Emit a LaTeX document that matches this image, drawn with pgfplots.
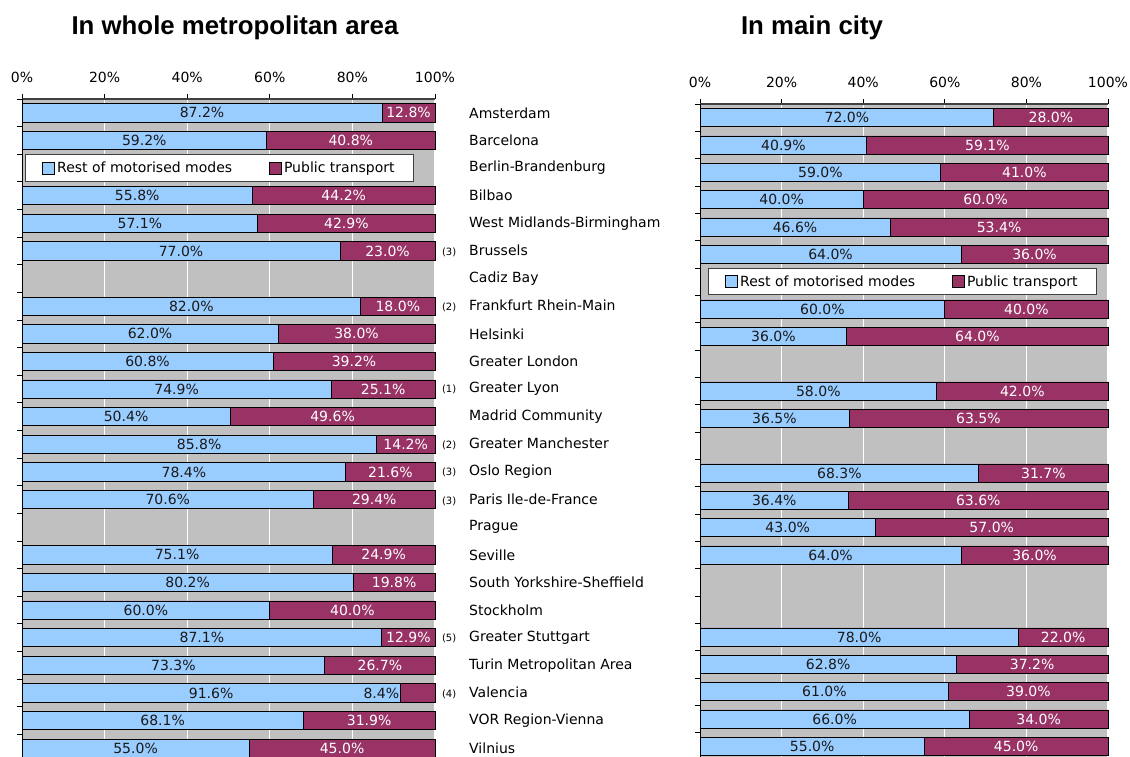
\documentclass[border=0pt]{standalone}
\usepackage{pgfplots}
\pgfplotsset{compat=1.18}
\usepackage{pgfplotstable}
\usepackage{fontspec}
\setmainfont{DejaVu Sans}
\newfontfamily\titlefont{Liberation Sans}
\definecolor{restc}{HTML}{99CCFF}
\definecolor{ptc}{HTML}{993366}
\definecolor{bgc}{HTML}{C0C0C0}
\definecolor{axc}{HTML}{404040}
\pgfplotsset{/pgf/number format/assume math mode=true}

\pgfplotstableread{
y rest pt
1 87.2 12.8
2 59.2 40.8
4 55.8 44.2
5 57.1 42.9
6 77.0 23.0
8 82.0 18.0
9 62.0 38.0
10 60.8 39.2
11 74.9 25.1
12 50.4 49.6
13 85.8 14.2
14 78.4 21.6
15 70.6 29.4
17 75.1 24.9
18 80.2 19.8
19 60.0 40.0
20 87.1 12.9
21 73.3 26.7
22 91.6 8.4
23 68.1 31.9
24 55.0 45.0
}\lefttab

\pgfplotstableread{
y rest pt
1 72.0 28.0
2 40.9 59.1
3 59.0 41.0
4 40.0 60.0
5 46.6 53.4
6 64.0 36.0
8 60.0 40.0
9 36.0 64.0
11 58.0 42.0
12 36.5 63.5
14 68.3 31.7
15 36.4 63.6
16 43.0 57.0
17 64.0 36.0
20 78.0 22.0
21 62.8 37.2
22 61.0 39.0
23 66.0 34.0
24 55.0 45.0
}\righttab

\newcommand{\fn}[1]{\llap{\fontsize{10}{12}\selectfont(#1)\hspace{13pt}}}
\newcommand{\fs}{\fontsize{14}{16}\selectfont}

\pgfplotsset{
  mychart/.style={
    scale only axis,
    xmin=0, xmax=100, ymin=0.5, ymax=24.5, y dir=reverse,
    axis x line*=top, axis y line*=left,
    x axis line style={draw=axc, line width=2pt},
    y axis line style={draw=black, line width=1pt},
    axis background/.style={fill=bgc},
    xtick={0,20,40,60,80,100},
    xticklabels={0\%,20\%,40\%,60\%,80\%,100\%},
    xmajorgrids, major grid style={white, line width=1.2pt},
    tick align=outside, major tick length=5pt,
    tick style={black, line width=0.8pt},
    ticklabel style={font=\fs},
    xticklabel style={yshift=8pt},
    title style={font=\titlefont\bfseries\fontsize{25.8}{28}\selectfont, anchor=base},
    clip=false,
  },
  bars/.style={xbar, bar width=0.66, bar shift=0pt, draw=black, line width=0.8pt, forget plot},
  lab/.style={draw=none, mark=none, forget plot, point meta=explicit,
    nodes near coords={\pgfmathprintnumber[fixed,fixed zerofill,precision=1]{\pgfplotspointmeta}\%},
    every node near coord/.append style={anchor=center, font=\fs, inner sep=1pt}},
}

\begin{document}
\begin{tikzpicture}
\useasboundingbox (0,0) rectangle (1130pt,757pt);

% ---------- left chart ----------
\begin{axis}[mychart,
  at={(22pt,-5pt)}, anchor=south west, width=413pt, height=663pt,
  title={In whole metropolitan area},
  title style={at={(axis description cs:0.5,1)}, yshift=58pt, xshift=6.5pt},
  ytick={1,...,24},
  yticklabels={Amsterdam,Barcelona,Berlin-Brandenburg,Bilbao,West Midlands-Birmingham,\fn{3}Brussels,Cadiz Bay,\fn{2}Frankfurt Rhein-Main,Helsinki,Greater London,\fn{1}Greater Lyon,Madrid Community,\fn{2}Greater Manchester,\fn{3}Oslo Region,\fn{3}Paris Ile-de-France,Prague,Seville,South Yorkshire-Sheffield,Stockholm,\fn{5}Greater Stuttgart,Turin Metropolitan Area,\fn{4}Valencia,VOR Region-Vienna,Vilnius},
  ytick style={draw=none},
  yticklabel style={anchor=west, inner sep=0pt, xshift=452pt},
  extra y ticks={0.5,1.5,...,24.5},
  extra y tick labels={},
  extra y tick style={ytick style={draw=black}},
  legend image code/.code={\draw[#1,draw=black,line width=0.8pt] (0pt,-6pt) rectangle (12pt,6pt);},
  legend style={at={(0.0073,0.896)}, anchor=west, draw=axc, line width=0.8pt, fill=white,
    inner xsep=17pt, inner ysep=5pt, font=\fs, legend columns=2, legend cell align=left,
    /tikz/every even column/.append style={column sep=35pt}},
]
\addplot[bars, fill=ptc] table[x expr=\thisrow{rest}+\thisrow{pt}, y=y]{\lefttab};
\addplot[bars, fill=restc] table[x=rest, y=y]{\lefttab};
\addplot[lab, every node near coord/.append style={text=black!90}] table[x expr=\thisrow{rest}/2, y=y, meta=rest]{\lefttab};
\addplot[lab, every node near coord/.append style={text=white}, skip coords between index={18}{19}] table[x expr=\thisrow{rest}+\thisrow{pt}/2, y=y, meta=pt]{\lefttab};
\addplot[lab, every node near coord/.append style={text=black!90, anchor=east}] coordinates {(91.6,22) [8.4]};
\addlegendimage{fill=restc}
\addlegendentry{Rest of motorised modes}
\addlegendimage{fill=ptc}
\addlegendentry{Public transport}
\end{axis}

% ---------- right chart ----------
\begin{axis}[mychart,
  at={(700pt,-3pt)}, anchor=south west, width=408pt, height=656pt,
  title={In main city},
  title style={at={(axis description cs:0.5,1)}, yshift=63pt, xshift=-92pt},
  ytick={0.5,1.5,...,24.5},
  yticklabels={},
  legend image code/.code={\draw[#1,draw=black,line width=0.8pt] (0pt,-6pt) rectangle (12pt,6pt);},
  legend style={at={(0.0196,0.729)}, anchor=west, draw=axc, line width=0.8pt, fill=white,
    inner xsep=17pt, inner ysep=5pt, font=\fs, legend columns=2, legend cell align=left,
    /tikz/every even column/.append style={column sep=35pt}},
]
\addplot[bars, fill=ptc] table[x expr=\thisrow{rest}+\thisrow{pt}, y=y]{\righttab};
\addplot[bars, fill=restc] table[x=rest, y=y]{\righttab};
\addplot[lab, every node near coord/.append style={text=black!90}] table[x expr=\thisrow{rest}/2, y=y, meta=rest]{\righttab};
\addplot[lab, every node near coord/.append style={text=white}] table[x expr=\thisrow{rest}+\thisrow{pt}/2, y=y, meta=pt]{\righttab};
\addlegendimage{fill=restc}
\addlegendentry{Rest of motorised modes}
\addlegendimage{fill=ptc}
\addlegendentry{Public transport}
\end{axis}
\end{tikzpicture}
\end{document}
